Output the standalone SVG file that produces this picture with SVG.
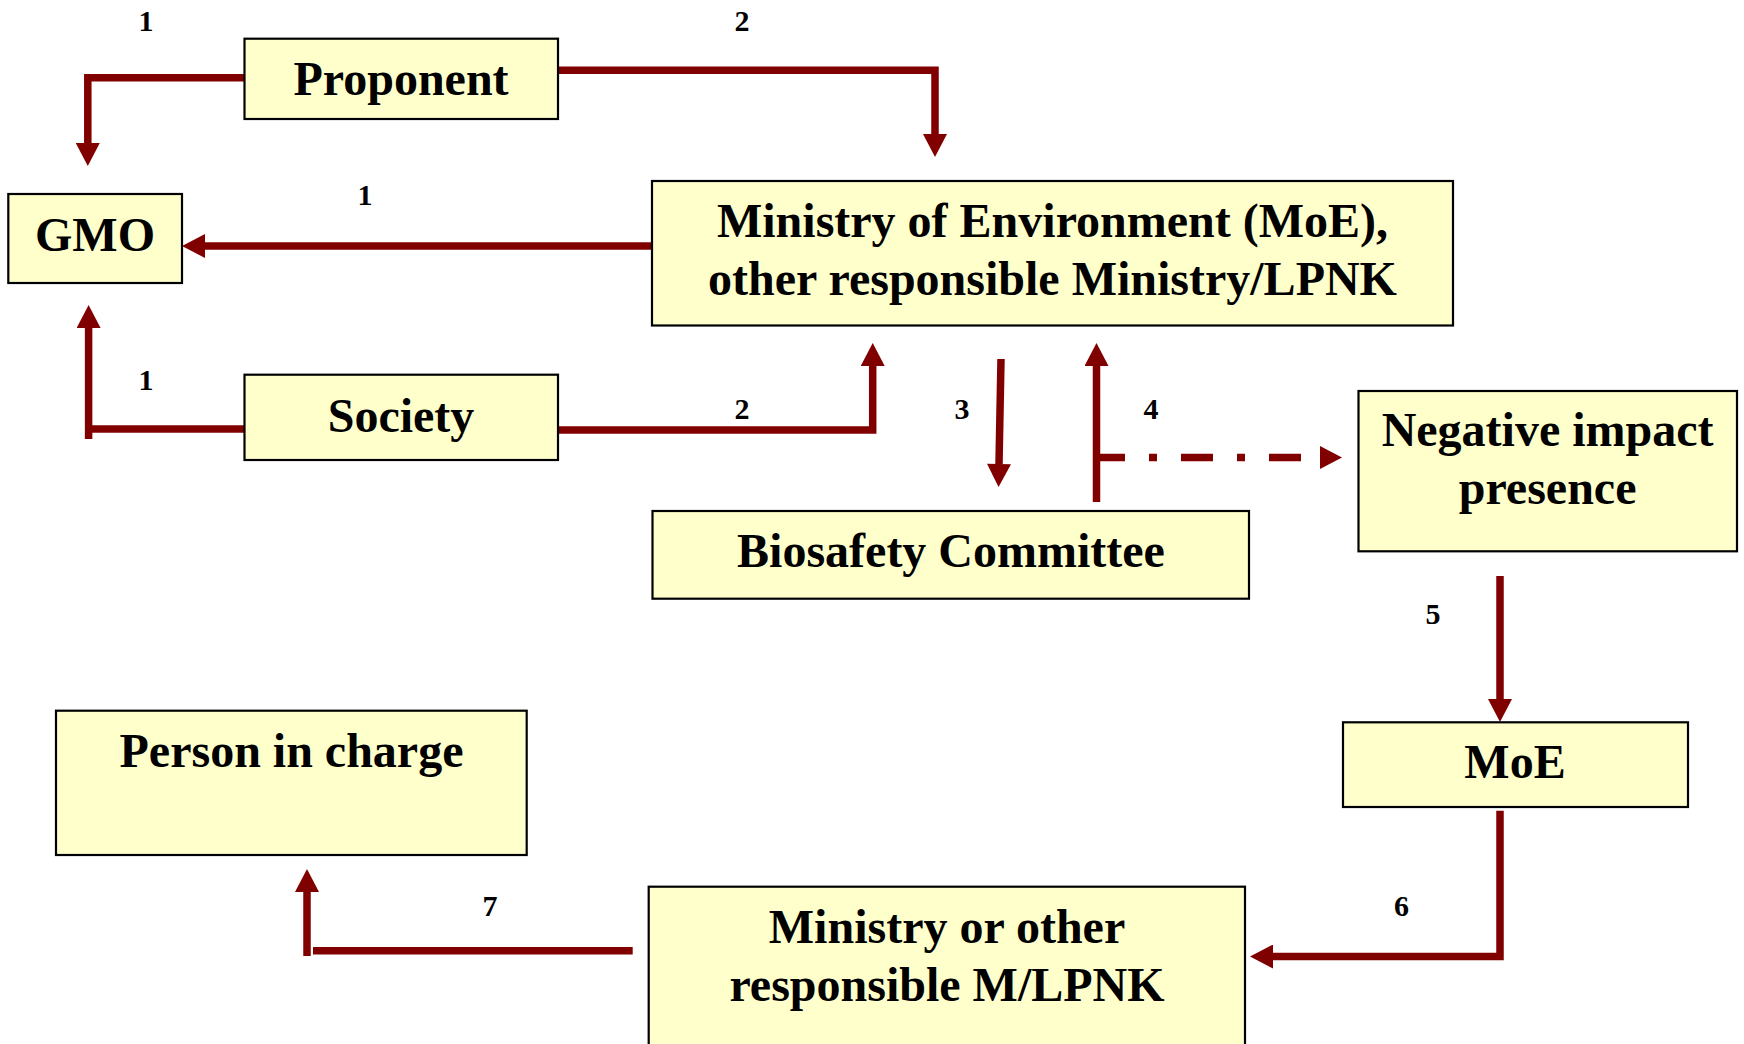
<svg xmlns="http://www.w3.org/2000/svg" width="1744" height="1044" viewBox="0 0 1744 1044">
<style>
.box{fill:#FFFFCC;stroke:#000;stroke-width:2.2}
.t{font-family:"Liberation Serif","Times New Roman",serif;font-weight:bold;font-size:48px;fill:#000;text-anchor:middle}
.n{font-family:"Liberation Serif","Times New Roman",serif;font-weight:bold;font-size:30px;fill:#000;text-anchor:middle}
.c{fill:none;stroke:#800000;stroke-width:7.5}
.d{stroke-dasharray:32 24 8 24}
.ah{fill:#800000}
</style>
<defs>
<marker id="arr" markerUnits="userSpaceOnUse" markerWidth="24" markerHeight="24" viewBox="0 0 23 24" refX="0" refY="12" orient="auto">
<polygon points="0,0 23,12 0,24" class="ah"/>
</marker>
</defs>
<rect width="1744" height="1044" fill="#fff"/>
<g id="connectors">
<path class="c" d="M244.5,77.7 H87.8 V143" marker-end="url(#arr)"/>
<path class="c" d="M652,246 H205" marker-end="url(#arr)"/>
<path class="c" d="M244.5,429 H85"/>
<path class="c" d="M88.6,439 V328" marker-end="url(#arr)"/>
<path class="c" d="M558,430 H872.7 V366" marker-end="url(#arr)"/>
<path class="c" d="M558,70.3 H935 V134" marker-end="url(#arr)"/>
<path class="c" d="M1001,359 L999,464" marker-end="url(#arr)"/>
<path class="c" d="M1096.5,502 V366" marker-end="url(#arr)"/>
<path class="c d" d="M1093,457.5 H1320"/>
<polygon class="ah" points="1320,446 1342,457.5 1320,469"/>
<path class="c" d="M1500,576 V699" marker-end="url(#arr)"/>
<path class="c" d="M1500,810.7 V956.5 H1273" marker-end="url(#arr)"/>
<path class="c" d="M632.7,950.7 H313"/>
<path class="c" d="M307,956 V892" marker-end="url(#arr)"/>
</g>
<g id="labels">
<text class="n" x="146" y="31">1</text>
<text class="n" x="742" y="31">2</text>
<text class="n" x="365" y="205">1</text>
<text class="n" x="146" y="390">1</text>
<text class="n" x="742" y="419">2</text>
<text class="n" x="962" y="419">3</text>
<text class="n" x="1151" y="419">4</text>
<text class="n" x="1433" y="624">5</text>
<text class="n" x="1401.5" y="916">6</text>
<text class="n" x="490" y="916">7</text>
</g>
<g id="node-proponent">
<rect class="box" x="244.5" y="38.7" width="313.5" height="80.3"/>
<text class="t" x="401" y="95">Proponent</text>
</g>
<g id="node-gmo">
<rect class="box" x="8.3" y="194" width="173.7" height="89"/>
<text class="t" x="95" y="250.7">GMO</text>
</g>
<g id="node-moe-main">
<rect class="box" x="652" y="181" width="801" height="144.5"/>
<text class="t" x="1052.5" y="237">Ministry of Environment (MoE),</text>
<text class="t" x="1052.5" y="295">other responsible Ministry/LPNK</text>
</g>
<g id="node-society">
<rect class="box" x="244.5" y="374.7" width="313.5" height="85.3"/>
<text class="t" x="401" y="431.7">Society</text>
</g>
<g id="node-negative">
<rect class="box" x="1358.5" y="391" width="378.5" height="160.3"/>
<text class="t" x="1547.6" y="446">Negative impact</text>
<text class="t" x="1547.6" y="504">presence</text>
</g>
<g id="node-biosafety">
<rect class="box" x="652.5" y="511" width="596.5" height="87.7"/>
<text class="t" x="951" y="567">Biosafety Committee</text>
</g>
<g id="node-moe">
<rect class="box" x="1343" y="722.3" width="345" height="84.7"/>
<text class="t" x="1515" y="778">MoE</text>
</g>
<g id="node-person">
<rect class="box" x="56" y="710.7" width="470.7" height="144.3"/>
<text class="t" x="291.5" y="767">Person in charge</text>
</g>
<g id="node-ministry-other">
<rect class="box" x="648.7" y="886.7" width="596.3" height="180"/>
<text class="t" x="947" y="942.7">Ministry or other</text>
<text class="t" x="947" y="1001">responsible M/LPNK</text>
</g>
</svg>
